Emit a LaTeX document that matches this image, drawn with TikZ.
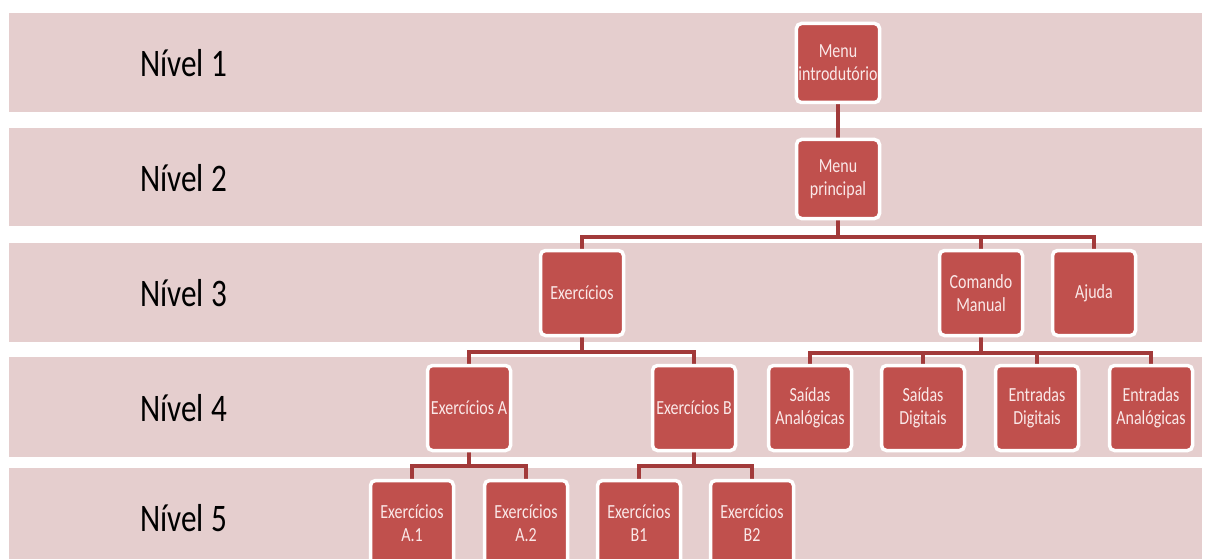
\documentclass[tikz,border=0pt]{standalone}
\usepackage{fontspec}
\newfontfamily\boxfont[FakeStretch=0.8]{Carlito}
\usetikzlibrary{positioning}

\definecolor{bandpink}{RGB}{229,206,206}
\definecolor{boxred}{RGB}{192,80,77}
\definecolor{linkred}{RGB}{162,58,58}
\definecolor{boxtext}{RGB}{250,232,232}

\pgfdeclarelayer{bands}
\pgfdeclarelayer{links}
\pgfsetlayers{bands,links,main}

\tikzset{
  menu/.style={draw=white, line width=3.5pt, fill=boxred, rounded corners=5pt,
    minimum width=83pt, minimum height=85pt, inner sep=2pt, align=center,
    text=boxtext, font=\boxfont\fontsize{20}{23}\selectfont},
  short/.style={minimum height=79pt},
  link/.style={draw=linkred, line width=4pt},
  level/.style={anchor=west, inner sep=0pt, text=black,
    font=\boxfont\fontsize{39}{44}\selectfont},
}

\begin{document}
\begin{tikzpicture}[x=1pt,y=-1pt]
\useasboundingbox (0,0) rectangle (1207,559);

% bands for the five levels
\begin{pgfonlayer}{bands}
\foreach \t/\b in {13/112,128/226,243/342,357/457,468/565}
  \fill[bandpink] (9,\t) rectangle (1202,\b);
\end{pgfonlayer}

\foreach \n/\y in {1/63,2/178,3/293,4/408,5/518}
  \node[level] (nivel\n) at (140,\y) {Nível \n};

% menus
\node[menu,short] (intro) at (838,63) {Menu\\introdutório};
\node[menu,short] (principal) at (838,179) {Menu\\principal};

\node[menu] (exerc) at (582,293) {Exercícios};
\node[menu] (comando) at (981,293) {Comando\\Manual};
\node[menu] (ajuda) at (1094,293) {Ajuda};

\node[menu] (exercA) at (469,408) {Exercícios A};
\node[menu] (exercB) at (694,408) {Exercícios B};
\node[menu] (saidasA) at (810,408) {Saídas\\Analógicas};
\node[menu] (saidasD) at (923,408) {Saídas\\Digitais};
\node[menu] (entradasD) at (1037,408) {Entradas\\Digitais};
\node[menu] (entradasA) at (1151,408) {Entradas\\Analógicas};

\node[menu] (exercA1) at (412,523) {Exercícios\\A.1};
\node[menu] (exercA2) at (526,523) {Exercícios\\A.2};
\node[menu] (exercB1) at (639,523) {Exercícios\\B1};
\node[menu] (exercB2) at (752,523) {Exercícios\\B2};

% tree links
\begin{pgfonlayer}{links}
\draw[link] (intro) -- (principal);
\foreach \c in {exerc,comando,ajuda}
  \draw[link] (principal.south) -- ++(0,17) -| (\c.north);
\foreach \c in {exercA,exercB}
  \draw[link] (exerc.south) -- ++(0,15) -| (\c.north);
\foreach \c in {saidasA,saidasD,entradasD,entradasA}
  \draw[link] (comando.south) -- ++(0,16) -| (\c.north);
\foreach \c in {exercA1,exercA2}
  \draw[link] (exercA.south) -- ++(0,14) -| (\c.north);
\foreach \c in {exercB1,exercB2}
  \draw[link] (exercB.south) -- ++(0,14) -| (\c.north);
\end{pgfonlayer}
\end{tikzpicture}
\end{document}
